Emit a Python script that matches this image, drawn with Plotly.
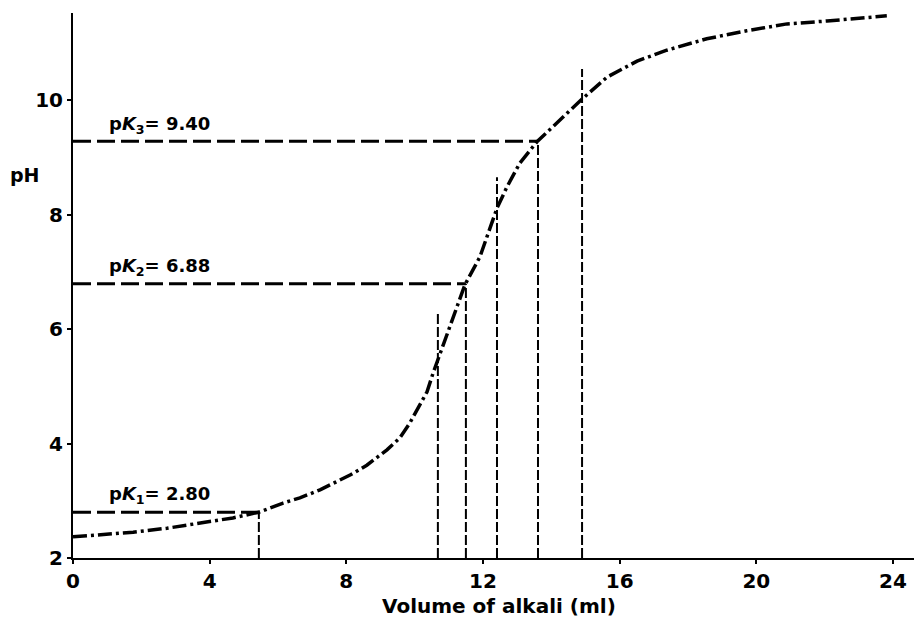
import plotly.graph_objects as go

# Titration curve
curve_ml = [0.0, 1.76, 2.75, 4.01, 4.68, 5.44, 6.15, 6.64, 7.23, 8.11, 8.60, 9.19, 9.57,
            9.86, 10.16, 10.36, 10.54, 10.68, 11.03, 11.47, 11.91, 12.41, 12.70, 13.08,
            13.58, 14.25, 14.87, 15.63, 16.51, 17.38, 18.55, 19.72, 20.90, 22.07, 23.03, 23.82]
curve_ph = [2.37, 2.45, 2.52, 2.63, 2.70, 2.80, 2.96, 3.05, 3.19, 3.45, 3.62, 3.89, 4.10,
            4.36, 4.67, 4.90, 5.23, 5.46, 6.03, 6.77, 7.26, 8.11, 8.48, 8.90,
            9.27, 9.65, 10.00, 10.40, 10.68, 10.87, 11.07, 11.21, 11.33, 11.38, 11.43, 11.47]

# pK horizontal guide lines
pk_labels = ["p<i>K</i><sub>1</sub>= 2.80", "p<i>K</i><sub>2</sub>= 6.88", "p<i>K</i><sub>3</sub>= 9.40"]
pk_line_ph = [2.80, 6.79, 9.28]
pk_line_end_ml = [5.44, 11.50, 13.61]
pk_label_ph = [3.10, 7.08, 9.56]

# vertical guide lines
vert_ml = [5.44, 10.68, 11.50, 12.41, 13.61, 14.90]
vert_top_ph = [2.80, 6.28, 6.79, 8.65, 9.28, 10.54]

x_ticks = [0, 4, 8, 12, 16, 20, 24]
y_ticks = [2, 4, 6, 8, 10]

FONT = "DejaVu Sans"

fig = go.Figure()

# horizontal dashed lines
for ph, xe in zip(pk_line_ph, pk_line_end_ml):
    fig.add_trace(go.Scatter(x=[0, xe], y=[ph, ph], mode="lines",
                             line=dict(color="black", width=3, dash="18px,6px"),
                             hoverinfo="skip", showlegend=False))

# vertical dashed lines
for xv, top in zip(vert_ml, vert_top_ph):
    fig.add_trace(go.Scatter(x=[xv, xv], y=[2, top], mode="lines",
                             line=dict(color="black", width=2, dash="10px,3px"),
                             hoverinfo="skip", showlegend=False))

# titration curve
fig.add_trace(go.Scatter(x=curve_ml, y=curve_ph, mode="lines",
                         line=dict(color="black", width=3.5, dash="14px,4px,3px,4px"),
                         showlegend=False))

for lab, yl in zip(pk_labels, pk_label_ph):
    fig.add_annotation(x=1.0, y=yl, text=lab, showarrow=False, xanchor="left",
                       yanchor="middle",
                       font=dict(family=FONT, size=18, color="black", weight="bold"))

# axis titles as annotations (positions in paper space)
fig.add_annotation(xref="paper", yref="paper", x=0.502, y=-0.088,
                   text="Volume of alkali (ml)", showarrow=False,
                   xanchor="center", yanchor="middle",
                   font=dict(family=FONT, size=20, color="black", weight="bold"))
fig.add_annotation(xref="paper", yref="paper", x=-0.057, y=0.703,
                   text="pH", showarrow=False,
                   xanchor="center", yanchor="middle",
                   font=dict(family=FONT, size=19, color="black", weight="bold"))

# page body has an 8px margin, so the figure is sized/offset to compensate
fig.update_layout(
    width=914, height=613,
    margin=dict(l=65, r=0, t=5, b=63, autoexpand=False),
    paper_bgcolor="white", plot_bgcolor="white",
    font=dict(family=FONT, color="black", weight="bold"),
)

fig.update_xaxes(range=[0, 24.85], tickvals=x_ticks, showgrid=False, zeroline=False,
                 automargin=False,
                 showline=True, linecolor="black", linewidth=2,
                 ticks="outside", ticklen=4, tickwidth=2, tickcolor="black",
                 tickfont=dict(family=FONT, size=20, weight="bold"))
fig.update_yaxes(range=[2, 11.52], tickvals=y_ticks, showgrid=False, zeroline=False,
                 automargin=False,
                 showline=True, linecolor="black", linewidth=2,
                 ticks="outside", ticklen=4, tickwidth=2, tickcolor="black",
                 tickfont=dict(family=FONT, size=20, weight="bold"))

fig.write_html("out.html")
